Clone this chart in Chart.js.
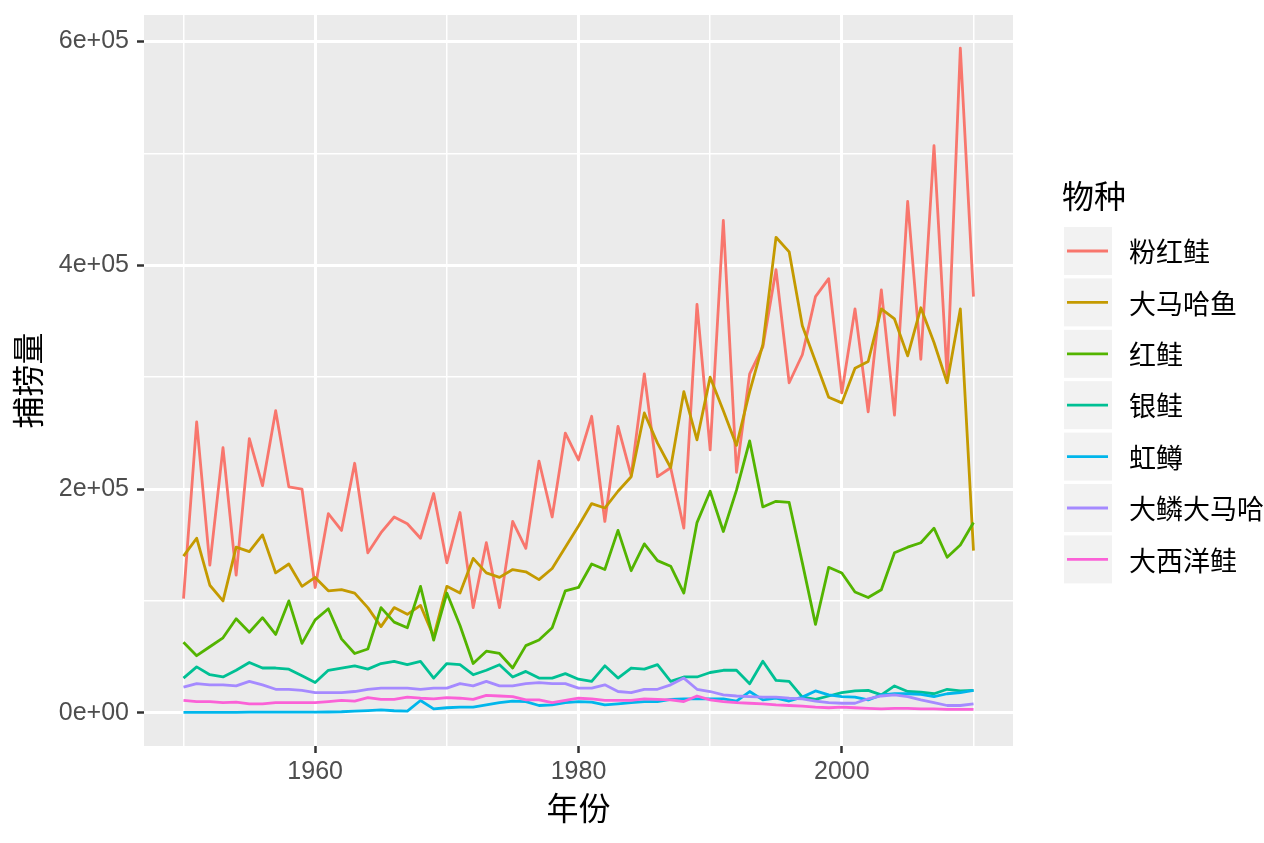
<!DOCTYPE html>
<html>
<head>
<meta charset="utf-8">
<script src="https://cdn.jsdelivr.net/npm/chart.js@4.4.1/dist/chart.umd.min.js"></script>
<style>
  html, body { margin: 0; padding: 0; background: #ffffff; }
  #wrap { width: 1264px; height: 843px; position: relative; }
</style>
</head>
<body>
<div id="wrap"><canvas id="c" width="1264" height="843"></canvas></div>
<script>
// ---------------- data ----------------
const years = [
  1950,1951,1952,1953,1954,1955,1956,1957,1958,1959,
  1960,1961,1962,1963,1964,1965,1966,1967,1968,1969,
  1970,1971,1972,1973,1974,1975,1976,1977,1978,1979,
  1980,1981,1982,1983,1984,1985,1986,1987,1988,1989,
  1990,1991,1992,1993,1994,1995,1996,1997,1998,1999,
  2000,2001,2002,2003,2004,2005,2006,2007,2008,2009,2010
];

const speciesNames = ['粉红鲑','大马哈鱼','红鲑','银鲑','虹鳟','大鳞大马哈','大西洋鲑'];
const speciesColors = ['#F8766D','#C49A00','#53B400','#00C094','#00B6EB','#A58AFF','#FB61D7'];

const pinkSalmon = [
  102000,260000,132000,237000,123000,245000,203000,270000,202000,200000,
  112000,178000,163000,223000,143000,161000,175000,169000,156000,196000,
  134000,179000,94000,152000,94000,171000,147000,225000,175000,250000,
  226000,265000,171000,256000,212000,303000,211000,219000,165000,365000,
  235000,440000,215000,303000,327000,396000,295000,320000,372000,388000,
  286000,361000,269000,378000,266000,457000,316000,507000,300000,594000,372000
];
const chumSalmon = [
  140000,156000,114000,100000,148000,144000,159000,125000,133000,113000,
  121000,109000,110000,107000,94000,77000,94000,88000,96000,68000,
  113000,107000,138000,125000,121000,128000,126000,119000,129000,148000,
  167000,187000,183000,198000,211000,268000,241000,219000,287000,244000,
  300000,270000,239000,287000,329000,425000,412000,346000,314000,282000,
  277000,308000,314000,361000,352000,319000,362000,331000,295000,361000,145000
];
const sockeyeSalmon = [
  63000,51000,59000,67000,84000,72000,85000,70000,100000,62000,
  83000,93000,66000,53000,57000,94000,81000,76000,113000,65000,
  107000,78000,44000,55000,53000,40000,60000,65000,76000,109000,
  112000,133000,128000,163000,127000,151000,136000,131000,107000,170000,
  198000,162000,199000,243000,184000,189000,188000,134000,79000,130000,
  125000,108000,103000,110000,143000,148000,152000,165000,139000,150000,170000
];
const cohoSalmon = [
  31000,41000,34000,32000,38000,45000,40000,40000,39000,33000,
  27000,38000,40000,42000,39000,44000,46000,43000,46000,31000,
  44000,43000,34000,38000,43000,32000,37000,31000,31000,35000,
  30000,28000,42000,31000,40000,39000,43000,28000,32000,32000,
  36000,38000,38000,26000,46000,29000,28000,14000,12000,15000,
  18000,19500,20000,16000,24000,19000,18500,17000,21000,19500,20000
];
const rainbowTrout = [
  400,400,400,400,400,500,500,500,500,500,
  600,700,900,1500,2000,2500,1800,1500,11000,3500,
  4500,5000,5000,7000,9000,10500,10000,6500,7000,9000,
  10000,9500,7000,8000,9000,10000,10000,12000,12500,12500,
  12500,12500,10500,19000,11500,13000,10500,14000,19500,16000,
  14500,14000,11500,16000,17000,17000,16500,14500,17000,18000,20000
];
const chinookSalmon = [
  23000,26000,25000,25000,24000,28000,25000,21000,21000,20000,
  18000,18000,18000,19000,21000,22000,22000,22000,21000,22000,
  22000,26000,24000,28000,24000,24000,26000,27000,26000,26000,
  22000,22000,25000,19000,18000,21000,21000,25000,31000,21000,
  19000,16000,15000,14500,14000,14000,13000,12500,10500,9000,
  8500,8500,12500,15000,16000,14500,11500,9000,6500,6500,8000
];
const atlanticSalmon = [
  11000,10000,10000,9000,9500,8000,8000,9000,9000,9000,
  9000,10000,11000,10500,13500,12000,12000,14000,13000,12500,
  13500,13000,12000,15500,15000,14500,11500,11500,9000,11000,
  13000,12500,11000,11000,11000,12500,12000,11500,10000,15000,
  11500,10000,9000,8500,8000,7000,6500,6000,5000,4500,
  5000,4500,4000,3500,4000,4000,3500,3500,3000,3000,3000
];

const seriesValues = [pinkSalmon, chumSalmon, sockeyeSalmon, cohoSalmon, rainbowTrout, chinookSalmon, atlanticSalmon];

// tick definitions
const xMajorTicks = [1960, 1980, 2000];
const xMajorLabels = ['1960', '1980', '2000'];
const xMinorTicks = [1950, 1970, 1990, 2010];
const yMajorTicks = [0, 200000, 400000, 600000];
const yMajorLabels = ['0e+00', '2e+05', '4e+05', '6e+05'];
const yMinorTicks = [100000, 300000, 500000];

const xTitle = '年份';
const yTitle = '捕捞量';
const legendTitle = '物种';

// ---------------- ranges (ggplot-style 5% expansion) ----------------
const allVals = seriesValues.flat();
const yLo = Math.min(0, ...allVals), yHi = Math.max(...allVals);
const yPad = (yHi - yLo) * 0.05;
const xLo = years[0], xHi = years[years.length - 1];
const xPad = (xHi - xLo) * 0.05;

const LATIN = '"Liberation Sans", "Noto Sans CJK SC", sans-serif';
const CJK = '"Noto Sans CJK SC", "Liberation Sans", sans-serif';

function buildTicks(major, minor) {
  return major.map(v => ({value: v, major: true}))
    .concat(minor.map(v => ({value: v, major: false})))
    .sort((a, b) => a.value - b.value);
}
function isMajor(list, v) { return list.indexOf(v) !== -1; }

const datasets = speciesNames.map((name, i) => ({
  label: name,
  data: years.map((yr, j) => ({x: yr, y: seriesValues[i][j]})),
  borderColor: speciesColors[i],
  backgroundColor: speciesColors[i],
  borderWidth: 2.8,
  pointRadius: 0,
  pointHoverRadius: 0,
  tension: 0,
  fill: false,
  borderJoinStyle: 'round',
  order: speciesNames.length - i
}));

const panelPlugin = {
  id: 'panel',
  beforeDraw(chart) {
    const {ctx, chartArea: a} = chart;
    ctx.save();
    ctx.fillStyle = '#ffffff';
    ctx.fillRect(0, 0, chart.width, chart.height);
    ctx.fillStyle = '#EBEBEB';
    ctx.fillRect(a.left, a.top, a.right - a.left, a.bottom - a.top);
    ctx.restore();
  }
};

const legendPlugin = {
  id: 'ggLegend',
  afterDraw(chart) {
    const ctx = chart.ctx;
    ctx.save();
    ctx.fillStyle = '#000000';
    ctx.textBaseline = 'middle';
    ctx.textAlign = 'left';
    ctx.font = '32px ' + CJK;
    ctx.fillText(legendTitle, 1062, 196);
    const keyLeft = 1064, keySize = 48, step = 51.4, firstTop = 227;
    speciesNames.forEach((name, i) => {
      const top = firstTop + i * step;
      const cy = top + keySize / 2;
      ctx.fillStyle = '#F2F2F2';
      ctx.fillRect(keyLeft, top, keySize, keySize);
      ctx.strokeStyle = speciesColors[i];
      ctx.lineWidth = 2.8;
      ctx.lineCap = 'butt';
      ctx.beginPath();
      ctx.moveTo(keyLeft + 3, cy);
      ctx.lineTo(keyLeft + keySize - 4, cy);
      ctx.stroke();
      ctx.fillStyle = '#000000';
      ctx.font = '27px ' + CJK;
      ctx.fillText(name, 1129, cy + 1);
    });
    ctx.restore();
  }
};

new Chart(document.getElementById('c'), {
  type: 'line',
  data: {datasets},
  plugins: [panelPlugin, legendPlugin],
  options: {
    responsive: false,
    animation: false,
    events: [],
    layout: {padding: {left: 0, top: 15, right: 251, bottom: 0}},
    plugins: {legend: {display: false}, tooltip: {enabled: false}, title: {display: false}},
    scales: {
      x: {
        type: 'linear',
        min: xLo - xPad,
        max: xHi + xPad,
        offset: false,
        afterBuildTicks(scale) { scale.ticks = buildTicks(xMajorTicks, xMinorTicks); },
        afterFit(scale) {
          scale.height = 97;
          scale.paddingLeft = 0; scale.paddingRight = 0;
          scale.paddingTop = 0; scale.paddingBottom = 0;
        },
        border: {display: false},
        grid: {
          color: '#FFFFFF',
          lineWidth: c => (c.tick && isMajor(xMajorTicks, c.tick.value)) ? 3 : 1.5,
          drawTicks: true,
          tickLength: 7,
          tickWidth: 2.5,
          tickColor: c => (c.tick && isMajor(xMajorTicks, c.tick.value)) ? '#333333' : 'rgba(0,0,0,0)'
        },
        ticks: {
          autoSkip: false,
          maxRotation: 0,
          padding: 4,
          color: '#4D4D4D',
          font: {family: LATIN, size: 25},
          callback: (v) => { const k = xMajorTicks.indexOf(v); return k === -1 ? '' : xMajorLabels[k]; }
        },
        title: {
          display: true,
          text: xTitle,
          color: '#000000',
          font: {family: CJK, size: 32},
          padding: {top: 0, bottom: 16}
        }
      },
      y: {
        type: 'linear',
        min: yLo - yPad,
        max: yHi + yPad,
        afterBuildTicks(scale) { scale.ticks = buildTicks(yMajorTicks, yMinorTicks); },
        afterFit(scale) {
          scale.width = 144;
          scale.paddingLeft = 0; scale.paddingRight = 0;
          scale.paddingTop = 0; scale.paddingBottom = 0;
        },
        border: {display: false},
        grid: {
          color: '#FFFFFF',
          lineWidth: c => (c.tick && isMajor(yMajorTicks, c.tick.value)) ? 3 : 1.5,
          drawTicks: true,
          tickLength: 7,
          tickWidth: 2.5,
          tickColor: c => (c.tick && isMajor(yMajorTicks, c.tick.value)) ? '#333333' : 'rgba(0,0,0,0)'
        },
        ticks: {
          autoSkip: false,
          padding: 8,
          color: '#4D4D4D',
          font: {family: LATIN, size: 25},
          callback: (v) => { const k = yMajorTicks.indexOf(v); return k === -1 ? '' : yMajorLabels[k]; }
        },
        title: {
          display: true,
          text: yTitle,
          color: '#000000',
          font: {family: CJK, size: 32},
          padding: {top: 9, bottom: 0}
        }
      }
    }
  }
});
</script>
</body>
</html>
